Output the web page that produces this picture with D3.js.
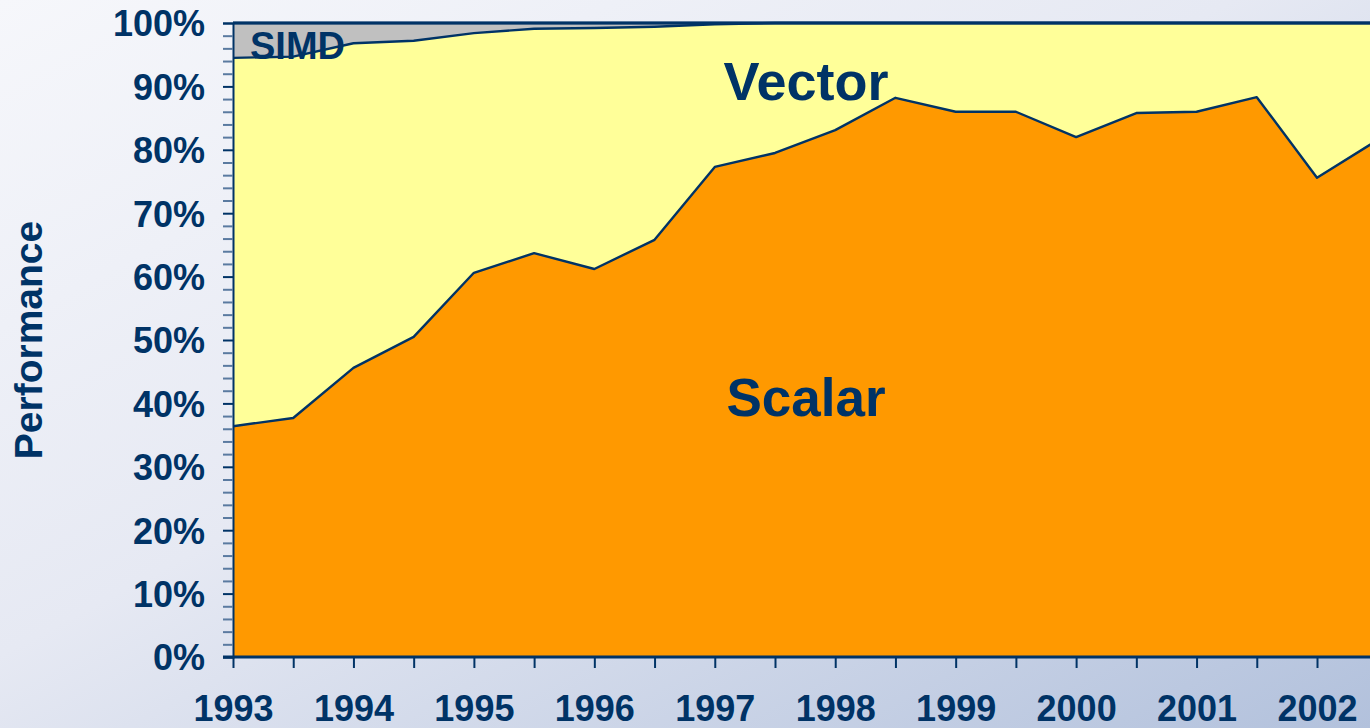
<!DOCTYPE html>
<html lang="en">
<head>
    <meta charset="utf-8" />
    <title>Performance share</title>
    <style type="text/css">
        html, body { margin: 0; padding: 0; overflow: hidden; }
        text { font-family: "Liberation Sans", Arial, sans-serif; font-weight: bold; fill: #003366; }
    </style>
</head>
<body>
<script src="https://cdn.jsdelivr.net/npm/d3@7/dist/d3.min.js"></script>
<script>
    // data (percent of total performance)
    var years  = [1993, 1993.5, 1994, 1994.5, 1995, 1995.5, 1996, 1996.5, 1997, 1997.5,
                  1998, 1998.5, 1999, 1999.5, 2000, 2000.5, 2001, 2001.5, 2002, 2002.5];
    var scalar = [36.4, 37.7, 45.6, 50.5, 60.6, 63.7, 61.2, 65.8, 77.3, 79.5,
                  83.1, 88.2, 86.0, 86.0, 82.0, 85.8, 86.0, 88.3, 75.6, 81.5];
    var vector = [58.1, 57.0, 51.2, 46.7, 37.8, 35.4, 38.0, 33.6, 22.5, 20.5,
                  16.9, 11.8, 14.0, 14.0, 18.0, 14.2, 14.0, 11.7, 24.4, 18.5];
    var simd   = [5.5, 5.3, 3.2, 2.8, 1.6, 0.9, 0.8, 0.6, 0.2, 0,
                  0, 0, 0, 0, 0, 0, 0, 0, 0, 0];
    var yearLabels = [1993, 1994, 1995, 1996, 1997, 1998, 1999, 2000, 2001, 2002];
    var seriesNames = ["scalar", "vector", "simd"];

    var width = 1370, height = 728;
    var plotLeft = 233, plotTop = 23, plotBottom = 657;

    var svg = d3.select("body").append("svg")
        .attr("width", width)
        .attr("height", height);

    // slide background
    var defs = svg.append("defs");
    var grad = defs.append("linearGradient").attr("id", "bg")
        .attr("x1", "0%").attr("y1", "0%").attr("x2", "100%").attr("y2", "100%");
    grad.append("stop").attr("offset", "0%").attr("stop-color", "#f6f7fb");
    grad.append("stop").attr("offset", "45%").attr("stop-color", "#e6e9f3");
    grad.append("stop").attr("offset", "100%").attr("stop-color", "#b2c1dc");
    svg.append("rect").attr("width", width).attr("height", height).attr("fill", "url(#bg)");

    defs.append("clipPath").attr("id", "plot")
        .append("rect").attr("x", plotLeft).attr("y", plotTop - 2)
        .attr("width", width - plotLeft).attr("height", plotBottom - plotTop + 2);

    var x = d3.scaleLinear().domain([1993, 2002]).range([plotLeft, 1317]);
    var y = d3.scaleLinear().domain([0, 100]).range([plotBottom, plotTop]);

    var rows = years.map(function(yr, i) {
        return {year: yr, scalar: scalar[i], vector: vector[i], simd: simd[i]};
    });
    var stacked = d3.stack().keys(seriesNames)(rows);
    var fills = {scalar: "#ff9900", vector: "#ffff99", simd: "#c0c0c0"};

    var area = d3.area()
        .x(function(d) { return x(d.data.year); })
        .y0(function(d) { return y(d[0]); })
        .y1(function(d) { return y(d[1]); });
    var topLine = d3.line()
        .x(function(d) { return x(d.data.year); })
        .y(function(d) { return y(d[1]); });

    var g = svg.append("g").attr("clip-path", "url(#plot)");
    g.selectAll("path.area")
        .data(stacked)
        .enter()
        .append("path")
        .attr("class", "area")
        .attr("fill", function(d) { return fills[d.key]; })
        .attr("d", area);
    g.selectAll("path.edge")
        .data(stacked)
        .enter()
        .append("path")
        .attr("class", "edge")
        .attr("fill", "none")
        .attr("stroke", "#003366")
        .attr("stroke-width", 2.4)
        .attr("stroke-linejoin", "round")
        .attr("d", topLine);

    // y axis, ticks every 2%
    var yAxis = d3.axisLeft(y)
        .tickValues(d3.range(0, 101, 2))
        .tickSize(10)
        .tickFormat(function(d) { return d % 10 === 0 ? d + "%" : ""; });
    var ya = svg.append("g").attr("transform", "translate(" + plotLeft + ",0)").call(yAxis);
    ya.select(".domain").attr("stroke", "#003366").attr("stroke-width", 2);
    ya.selectAll(".tick line").attr("stroke", function(d) { return d % 10 === 0 ? "#003366" : "#5a7aa0"; })
        .attr("stroke-width", 2);
    ya.selectAll(".tick text").attr("x", -28).attr("dy", "0.36em")
        .style("font-size", "36px").style("font-family", "'Liberation Sans', Arial, sans-serif")
        .style("font-weight", "bold").attr("fill", "#003366");

    // x axis, ticks every half year
    var xAxis = d3.axisBottom(x)
        .tickValues(years.filter(function(v) { return v <= 2002; }))
        .tickSize(11)
        .tickFormat(function(d) { return yearLabels.indexOf(d) >= 0 ? d : ""; });
    var xa = svg.append("g").attr("transform", "translate(0," + plotBottom + ")").call(xAxis);
    xa.select(".domain").remove();
    xa.append("line").attr("x1", plotLeft - 10).attr("x2", width).attr("y1", 0).attr("y2", 0)
        .attr("stroke", "#003366").attr("stroke-width", 3);
    xa.selectAll(".tick line").attr("stroke", "#003366").attr("stroke-width", 2);
    xa.selectAll(".tick text").attr("y", 38).attr("dy", "0.71em")
        .style("font-size", "36px").style("font-family", "'Liberation Sans', Arial, sans-serif")
        .style("font-weight", "bold").attr("fill", "#003366");

    // frame top
    svg.append("line").attr("x1", plotLeft).attr("x2", width).attr("y1", plotTop).attr("y2", plotTop)
        .attr("stroke", "#003366").attr("stroke-width", 3);

    // series labels
    svg.append("text").attr("x", 250).attr("y", 59).style("font-size", "38px").text("SIMD");
    svg.append("text").attr("x", 806).attr("y", 100).attr("text-anchor", "middle")
        .style("font-size", "54px").text("Vector");
    svg.append("text").attr("x", 806).attr("y", 416).attr("text-anchor", "middle")
        .style("font-size", "53px").text("Scalar");

    svg.append("text")
        .attr("transform", "translate(42,340) rotate(-90)")
        .attr("text-anchor", "middle")
        .style("font-size", "39px")
        .text("Performance");
</script>
</body>
</html>
